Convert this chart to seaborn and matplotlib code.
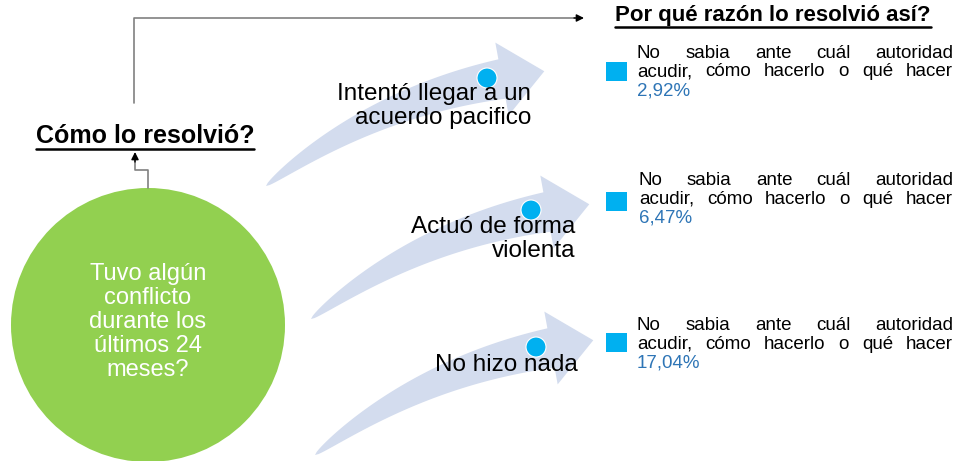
import numpy as np
import seaborn as sns
import matplotlib.pyplot as plt
from matplotlib.patches import Circle, Polygon, Rectangle

# ---- data ----
question = "Tuvo algún\nconflicto\ndurante los\núltimos 24\nmeses?"
title_how = "Cómo lo resolvió?"
title_why = "Por qué razón lo resolvió así?"
answers = ["Intentó llegar a un\nacuerdo pacifico", "Actuó de forma\nviolenta", "No hizo nada"]
reason_lines = ["No sabia ante cuál autoridad", "acudir, cómo hacerlo o qué hacer"]
percents = [2.92, 6.47, 17.04]

sns.set_style("white")
plt.rcParams['font.family'] = ['Liberation Sans', 'DejaVu Sans']

green = "#92D050"
cyan = "#00B0F0"
arrow_fill = "#D3DCEE"
pct_blue = "#2E75B6"
line_grey = "#808080"

fig = plt.figure(figsize=(9.57, 4.61), dpi=100)
ax = fig.add_axes([0, 0, 1, 1])
ax.set_xlim(0, 957)
ax.set_ylim(461, 0)
ax.axis("off")


def curved_arrow(ax, p0, p1, p2, w=40, h=37, L=43):
    p0, p1, p2 = map(np.array, (p0, p1, p2))
    t = np.linspace(0, 1, 80)[:, None]
    pts = (1 - t) ** 2 * p0 + 2 * t * (1 - t) * p1 + t ** 2 * p2
    tan = 2 * (1 - t) * (p1 - p0) + 2 * t * (p2 - p1)
    tan = tan / np.linalg.norm(tan, axis=1)[:, None]
    nrm = np.column_stack([tan[:, 1], -tan[:, 0]])
    half = (w / 2) * t ** 0.6
    upper = pts + nrm * half
    lower = pts - nrm * half
    d = tan[-1]
    n = nrm[-1]
    head = [p2 + n * h, p2 + d * L, p2 - n * h]
    poly = np.vstack([upper, head, lower[::-1]])
    ax.add_patch(Polygon(poly, closed=True, fc=arrow_fill, ec="none", zorder=1))


# three arrows, same shape shifted
base = dict(p0=(315, 455), p1=(420, 372), p2=(551, 348))
shifts = [(-49, -269), (-4, -136), (0, 0)]
for dx, dy in shifts:
    curved_arrow(ax, *[(x + dx, y + dy) for x, y in base.values()])

# dots and answer labels
dot_pos = [(487, 78), (531, 210), (536, 347)]
label_pos = [(531, 106), (575, 239), (578, 365)]
for (cx, cy), (lx, ly), txt in zip(dot_pos, label_pos, answers):
    ax.add_patch(Circle((cx, cy), 10, fc=cyan, ec="white", lw=0.8, zorder=3))
    ax.text(lx, ly, txt, ha="right", va="center", fontsize=17.5, color="black",
            linespacing=1.08, zorder=4)

# green circle
ax.add_patch(Circle((148, 325), 137, fc=green, ec="none", zorder=2))
ax.text(148, 322, question, ha="center", va="center", fontsize=17,
        color="white", linespacing=1.12, zorder=3)

# connectors
ax.plot([148, 148, 135, 135], [188, 170, 170, 160], color=line_grey, lw=1.2, zorder=2)
ax.annotate("", xy=(135, 152), xytext=(135, 162),
            arrowprops=dict(arrowstyle="-|>", color="black", lw=1, mutation_scale=11,
                            shrinkA=0, shrinkB=0))
ax.plot([134, 134, 575], [103, 18, 18], color=line_grey, lw=1.2, zorder=2)
ax.annotate("", xy=(584, 18), xytext=(574, 18),
            arrowprops=dict(arrowstyle="-|>", color="black", lw=1, mutation_scale=11,
                            shrinkA=0, shrinkB=0))

fig.canvas.draw()
renderer = fig.canvas.get_renderer()


def underlined(x, y, txt, size):
    t = ax.text(x, y, txt, ha="center", va="center", fontsize=size,
                fontweight="bold", color="black", zorder=4)
    bb = t.get_window_extent(renderer)
    y_line = 461 - bb.y0 + 1
    ax.plot([bb.x0, bb.x1], [y_line, y_line], color="black", lw=1.8, zorder=4)


underlined(145, 136, title_how, 18)
underlined(773, 16, title_why, 16)


def justified(x0, x1, y, line):
    words = line.split(" ")
    objs = [ax.text(0, y, wd, ha="left", va="center", fontsize=13.5, color="black")
            for wd in words]
    widths = [o.get_window_extent(renderer).width for o in objs]
    gap = (x1 - x0 - sum(widths)) / (len(words) - 1)
    x = x0
    for o, wdt in zip(objs, widths):
        o.set_x(x)
        x += wdt + gap


block_y = [53, 180, 325]
block_x = [637, 639, 637]
square_y = [62, 192, 333]
for y, x, sq, p in zip(block_y, block_x, square_y, percents):
    ax.add_patch(Rectangle((606, sq), 21, 19, fc=cyan, ec="none", zorder=3))
    for i, line in enumerate(reason_lines):
        justified(x, 953, y + i * 19, line)
    ax.text(x, y + 38, f"{p:.2f}%".replace(".", ","), ha="left", va="center",
            fontsize=13.5, color=pct_blue)

fig.savefig("out.png", dpi=100)
